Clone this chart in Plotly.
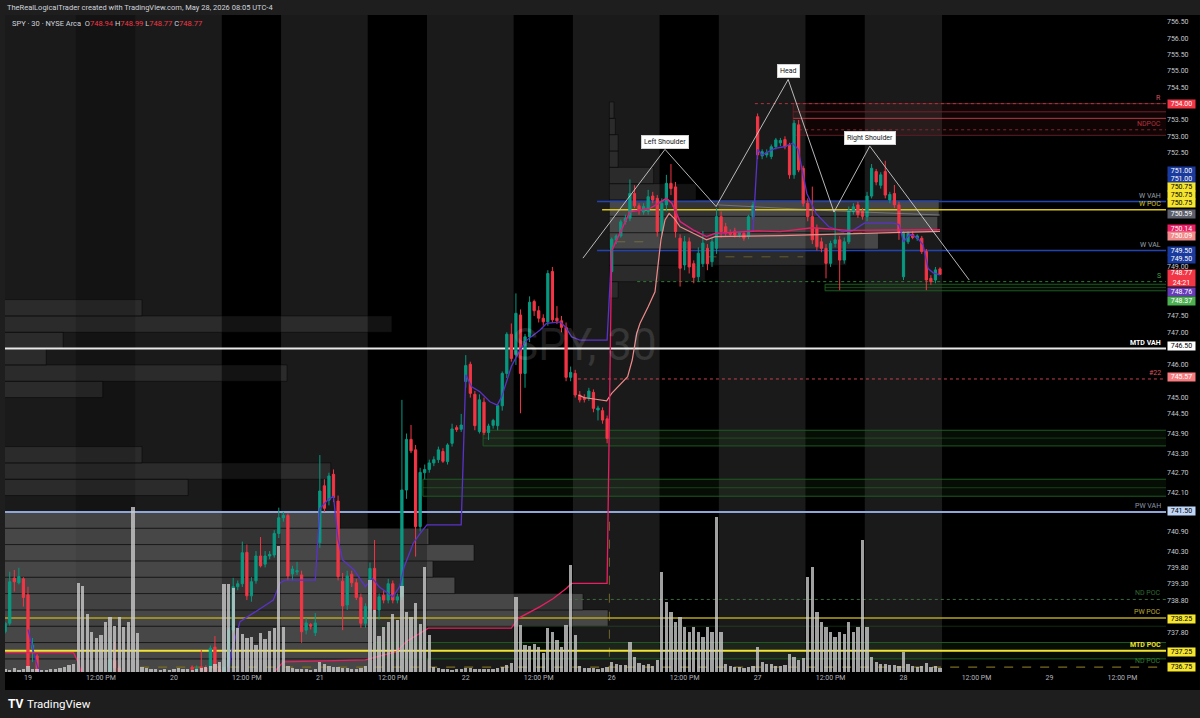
import plotly.graph_objects as go

# ======================= DATA =======================
# 30-minute bars, extended hours 04:00-20:00 (32 bars per session).
# bar index 0 = May 19 04:00 ; May 25 is a holiday (no session)
day_names = ["19", "20", "21", "22", "26", "27", "28", "29"]
day_first_bar = [0, 32, 64, 96, 128, 160, 192, 224]
noon_offset = 16
noon_text = "12:00 PM"

# (open, high, low, close)
may18_tail = [
    (737.83, 738.12, 737.78, 738.09), (738.09, 739.67, 738.02, 739.36),
    (739.47, 739.72, 739.06, 739.36), (739.33, 739.79, 739.28, 739.52),
    (739.45, 739.50, 738.60, 738.88),
]
may19 = [
    (738.96, 739.21, 736.70, 736.76), (737.32, 737.64, 736.90, 737.42),
    (737.09, 737.15, 735.90, 736.30), (736.30, 736.45, 736.10, 736.20),
    (736.20, 736.35, 736.05, 736.15), (736.15, 736.30, 736.00, 736.25),
    (736.25, 736.40, 736.10, 736.20), (736.20, 736.35, 736.00, 736.10),
    (736.10, 736.30, 735.95, 736.20), (736.20, 736.45, 736.10, 736.35),
    (736.35, 736.50, 736.15, 736.25), (736.25, 736.50, 735.60, 735.80),
    (735.80, 736.10, 735.40, 735.90), (735.90, 736.20, 735.70, 736.00),
    (736.00, 736.30, 735.80, 736.10), (736.10, 736.40, 735.90, 736.20),
    (736.20, 736.50, 736.00, 736.30), (736.30, 736.55, 736.10, 736.40),
    (736.40, 737.64, 736.30, 736.98), (736.94, 737.53, 736.60, 736.72),
    (736.72, 736.80, 736.30, 736.40), (736.40, 736.55, 736.10, 736.30),
    (736.30, 736.50, 736.00, 736.20), (736.20, 736.45, 735.90, 736.35),
    (736.35, 736.50, 736.20, 736.40), (736.40, 736.50, 736.30, 736.35),
    (736.35, 736.45, 736.25, 736.30), (736.30, 736.40, 736.20, 736.35),
    (736.35, 736.45, 736.30, 736.40), (736.40, 736.50, 736.30, 736.35),
    (736.35, 736.45, 736.25, 736.30), (736.30, 736.45, 736.20, 736.40),
]
may20 = [
    (736.40, 736.50, 736.30, 736.45), (736.45, 736.55, 736.35, 736.40),
    (736.40, 736.50, 736.30, 736.45), (736.45, 736.58, 736.40, 736.50),
    (736.75, 736.80, 736.60, 736.68), (736.68, 736.80, 736.55, 736.70),
    (736.75, 737.27, 736.60, 736.65), (736.72, 736.80, 736.55, 736.62),
    (736.70, 737.41, 736.60, 737.33), (737.36, 737.70, 736.60, 736.68),
    (736.68, 736.80, 736.50, 736.60), (736.60, 737.00, 736.30, 736.75),
    (736.75, 737.95, 736.60, 737.88), (737.88, 739.48, 737.80, 739.21),
    (739.21, 739.40, 739.10, 739.30), (739.30, 740.59, 739.20, 740.25),
    (740.26, 740.50, 738.80, 738.93), (738.93, 739.50, 738.75, 739.36),
    (739.39, 740.30, 739.30, 740.15), (740.15, 740.73, 739.80, 739.85),
    (739.90, 740.30, 739.80, 740.15), (740.15, 740.30, 740.05, 740.20),
    (740.18, 740.94, 740.10, 740.84), (740.84, 741.63, 740.70, 741.32),
    (741.32, 741.50, 741.20, 741.39), (741.39, 741.45, 739.40, 739.54),
    (739.60, 739.85, 739.40, 739.75), (739.66, 739.97, 739.57, 739.70),
    (739.57, 739.70, 737.49, 737.83), (737.88, 738.25, 737.75, 738.10),
    (738.05, 738.10, 737.90, 738.00), (737.80, 738.40, 737.70, 738.10),
]
may21 = [
    (740.56, 743.24, 740.40, 742.14), (742.30, 742.50, 741.50, 741.61),
    (741.86, 742.70, 741.70, 742.60), (742.65, 742.80, 741.80, 741.94),
    (741.83, 742.00, 739.40, 739.52), (739.38, 739.63, 737.88, 738.62),
    (738.65, 739.70, 738.50, 739.54), (739.59, 739.70, 739.20, 739.33),
    (739.33, 739.45, 738.80, 738.88), (738.88, 739.00, 737.95, 738.09),
    (738.09, 738.70, 737.95, 738.60), (738.55, 739.95, 738.40, 739.77),
    (739.77, 740.64, 738.40, 738.50), (738.50, 739.00, 738.20, 738.90),
    (738.95, 739.10, 738.70, 738.80), (738.80, 739.45, 738.70, 739.30),
    (739.30, 739.40, 738.70, 738.80), (738.80, 739.00, 738.70, 738.90),
    (738.90, 744.93, 738.80, 742.17), (742.17, 743.90, 741.90, 743.72),
    (743.72, 744.16, 743.30, 743.37), (743.40, 743.55, 740.13, 741.05),
    (741.05, 742.85, 740.90, 742.71), (742.70, 742.95, 742.50, 742.80),
    (742.80, 743.10, 742.70, 743.00), (743.00, 743.20, 742.90, 743.10),
    (743.10, 743.50, 743.00, 743.40), (743.35, 743.45, 743.00, 743.05),
    (743.04, 743.60, 742.95, 743.55), (743.60, 744.20, 743.50, 744.04),
    (744.08, 744.15, 743.95, 744.02), (744.03, 744.50, 743.95, 744.16),
]
may22 = [
    (745.49, 746.30, 745.30, 745.98), (746.02, 746.10, 745.00, 745.13),
    (745.10, 745.20, 744.00, 744.14), (743.96, 745.10, 743.90, 744.93),
    (744.86, 745.00, 743.85, 743.93), (743.93, 744.20, 743.70, 744.13),
    (744.15, 744.35, 744.05, 744.30), (744.14, 744.80, 744.00, 744.75),
    (744.75, 745.80, 744.60, 745.74), (745.74, 747.00, 745.60, 746.94),
    (746.94, 747.27, 746.10, 746.20), (746.31, 748.19, 746.00, 747.58),
    (747.53, 747.70, 744.52, 745.74), (745.74, 746.95, 745.30, 746.86),
    (746.86, 748.10, 746.70, 747.92), (747.94, 748.00, 747.50, 747.66),
    (747.66, 747.80, 747.30, 747.43), (747.43, 747.55, 747.20, 747.32),
    (747.32, 748.90, 747.20, 748.80), (748.86, 749.00, 747.30, 747.38),
    (747.43, 747.80, 747.25, 747.35), (747.35, 747.50, 747.00, 747.15),
    (747.15, 747.30, 745.50, 745.62), (745.62, 745.95, 745.50, 745.77),
    (745.74, 745.85, 745.00, 745.08), (745.08, 745.20, 744.85, 744.93),
    (744.98, 745.10, 744.85, 744.95), (745.00, 745.30, 744.90, 745.20),
    (745.16, 745.25, 744.55, 744.67), (744.62, 744.75, 744.30, 744.68),
    (744.60, 744.70, 744.20, 744.31), (744.35, 744.45, 743.60, 743.75),
]
may26 = [
    (748.86, 749.90, 748.80, 749.85), (749.83, 750.00, 749.70, 749.95),
    (749.95, 750.45, 749.90, 750.38), (750.38, 750.60, 750.30, 750.49),
    (750.49, 751.68, 750.40, 751.25), (751.25, 751.50, 750.80, 750.87),
    (750.87, 750.95, 750.60, 750.74), (750.68, 750.95, 750.60, 750.85),
    (750.70, 751.36, 750.60, 751.15), (751.17, 751.30, 750.95, 751.05),
    (751.10, 751.20, 749.93, 750.08), (750.10, 751.10, 749.95, 750.95),
    (750.90, 751.82, 750.70, 751.56), (751.56, 752.15, 751.20, 751.40),
    (751.45, 751.60, 749.90, 750.08), (749.88, 750.00, 748.40, 748.96),
    (749.06, 749.95, 748.90, 749.77), (749.77, 749.90, 748.80, 749.00),
    (749.10, 749.20, 748.50, 748.68), (748.70, 749.60, 748.55, 749.42),
    (749.10, 750.10, 749.00, 749.73), (749.57, 749.70, 748.90, 749.10),
    (749.16, 749.90, 749.00, 749.77), (749.57, 750.80, 749.40, 750.54),
    (750.54, 750.70, 749.90, 750.08), (750.23, 750.35, 749.95, 750.03),
    (750.05, 750.15, 749.95, 750.00), (750.10, 750.20, 749.90, 749.98),
    (749.98, 750.10, 749.90, 750.05), (750.03, 750.10, 749.80, 749.88),
    (749.93, 750.60, 749.85, 750.54), (750.54, 751.00, 750.45, 750.90),
]
may27 = [
    (753.60, 753.70, 752.30, 752.43), (752.40, 752.60, 752.30, 752.53),
    (752.43, 752.60, 752.35, 752.50), (752.38, 752.75, 752.30, 752.68),
    (752.68, 752.95, 752.60, 752.89), (752.80, 752.95, 752.70, 752.87),
    (752.90, 753.00, 752.60, 752.68), (752.73, 752.80, 751.70, 751.82),
    (751.82, 753.50, 751.70, 753.40), (753.35, 753.50, 751.90, 751.97),
    (752.02, 752.10, 750.85, 750.95), (750.95, 751.10, 750.40, 750.54),
    (750.54, 751.46, 749.70, 749.83), (750.18, 750.30, 749.50, 749.62),
    (749.77, 749.90, 749.45, 749.57), (749.57, 749.70, 748.65, 749.11),
    (749.11, 749.80, 749.00, 749.72), (749.72, 750.69, 749.60, 749.83),
    (749.83, 749.95, 748.29, 749.21), (749.21, 749.90, 749.10, 749.77),
    (749.77, 750.85, 749.70, 750.74), (750.70, 750.95, 750.60, 750.84),
    (750.90, 751.00, 750.50, 750.60), (750.70, 750.80, 750.45, 750.55),
    (750.54, 751.30, 750.40, 751.17), (751.17, 752.15, 751.10, 752.02),
    (751.92, 752.00, 751.50, 751.60), (751.50, 751.90, 751.40, 751.82),
    (751.92, 752.25, 751.10, 751.20), (751.05, 751.30, 750.95, 751.22),
    (751.25, 751.51, 750.80, 750.90), (750.90, 751.00, 749.83, 750.08),
]
may28 = [
    (748.70, 750.10, 748.60, 750.03), (749.77, 750.10, 749.70, 750.03),
    (750.00, 750.10, 749.85, 749.90), (749.88, 750.00, 749.80, 749.95),
    (749.88, 749.95, 749.40, 749.47), (749.47, 749.55, 748.29, 748.60),
    (748.65, 748.75, 748.45, 748.55), (748.60, 749.00, 748.50, 748.91),
    (748.94, 748.99, 748.77, 748.77),
]
first_bar_index = -5

# volume per bar (x10k shares)
vol18_tail = [3, 2, 4, 2, 3]
vol19 = [6, 3, 3, 2, 2, 3, 3, 4, 5, 7, 8, 89, 86, 58, 40, 34, 37, 50, 55, 46, 55, 45, 50, 165, 39, 5, 4, 3, 3, 2, 3, 2]
vol20 = [3, 4, 3, 3, 2, 3, 4, 5, 6, 8, 10, 88, 88, 84, 44, 38, 34, 35, 27, 39, 33, 41, 44, 126, 45, 6, 4, 3, 3, 3, 2, 3]
vol21 = [10, 8, 6, 5, 5, 4, 4, 3, 3, 4, 6, 92, 62, 36, 45, 50, 58, 52, 86, 60, 55, 69, 48, 105, 37, 5, 4, 3, 3, 2, 3, 3]
vol22 = [4, 4, 3, 3, 3, 3, 3, 4, 5, 7, 9, 75, 47, 27, 26, 28, 25, 19, 44, 40, 32, 25, 47, 107, 37, 6, 4, 4, 4, 3, 4, 5]
vol26 = [10, 8, 7, 7, 30, 15, 9, 7, 8, 6, 12, 100, 70, 60, 50, 55, 45, 40, 45, 40, 35, 45, 40, 155, 40, 8, 6, 5, 5, 4, 5, 6]
vol27 = [25, 10, 8, 8, 6, 6, 7, 18, 15, 12, 14, 95, 105, 60, 50, 45, 40, 35, 40, 38, 50, 40, 45, 132, 45, 15, 10, 8, 8, 7, 7, 6]
vol28 = [20, 8, 6, 5, 6, 9, 5, 6, 4]

# VWAP-type lines, read as (bar, price) vertices
daily_vwap = [(0, 737.9), (1, 737.3), (2, 736.8), (3, 736.4), (31, 736.3), (32, 736.4), (43.9, 736.55),
              (44.7, 737.27), (46.5, 738.14), (49.4, 738.4), (53.8, 738.8), (55.3, 739.33), (56.4, 739.41),
              (63, 739.41), (64, 741.6), (66, 741.9), (67, 741.97), (68, 740.64), (69, 740.03), (71.5, 739.72),
              (74, 739.21), (75.5, 739.47), (77, 739.21), (80, 738.9), (81.5, 739.21), (82.5, 739.82),
              (84.5, 740.54), (86, 740.84), (87.5, 741.1), (95, 741.1), (96, 745.7), (97.3, 745.33),
              (99.1, 745.18), (101.3, 744.87), (102.9, 744.77), (103.9, 745.03), (105, 745.54), (106, 745.95),
              (107.9, 746.46), (109.4, 746.76), (112.3, 747.07), (113.7, 747.27), (116.7, 747.32),
              (117.8, 747.17), (119.2, 746.86), (121, 746.76), (127, 746.76), (128, 749.5), (129.8, 750.03),
              (132, 750.69), (136.4, 750.79), (140, 751.1), (141.2, 750.95), (143, 750.39), (145.9, 750.13),
              (148.8, 749.93), (150.7, 750.03), (159, 750.1), (160, 752.6), (161, 752.43), (163.8, 752.63),
              (165.8, 752.68), (167.7, 752.79), (168.9, 752.6), (169.7, 752.02), (170.8, 751.25),
              (172.8, 750.64), (175.6, 750.23), (178.7, 750.08), (180.7, 750.1), (183.4, 750.34),
              (189.7, 750.34), (191, 750.3), (192, 749.77), (193.4, 750.0), (195, 749.9), (196.3, 749.67),
              (197.4, 748.95), (198.5, 748.82), (200, 748.76)]
weekly_vwap = [(-5, 737.19), (10, 737.19), (11, 736.9), (12, 736.45), (53, 736.4), (54, 736.6), (56, 736.91),
               (74, 736.97), (80.8, 737.22), (83, 737.53), (87.8, 737.94), (106, 737.94), (107.5, 738.24),
               (112.3, 738.6), (115.2, 738.85), (118.1, 739.16), (119.2, 739.31), (127, 739.31), (128, 749.5),
               (129.8, 750.03), (132, 750.69), (136.4, 750.79), (140, 751.1), (141.2, 750.95), (143, 750.39),
               (145.9, 750.13), (148.8, 749.93), (150.7, 750.03), (160, 750.1), (165, 750.08), (172, 750.2),
               (180, 750.12), (200, 750.14)]
anchored_vwap = [(120.7, 745.08), (122, 745.0), (124.5, 744.95), (126.9, 744.9), (128, 745.13), (130, 745.44),
                 (131.5, 745.64), (132.5, 746.15), (133.5, 746.97), (134.2, 747.27), (134.6, 747.38),
                 (136, 747.78), (137.5, 748.24), (138.2, 749.01), (138.8, 749.83), (139.7, 750.44),
                 (140.6, 750.64), (141.7, 750.49), (143, 750.23), (145.9, 750.03), (148.8, 749.83),
                 (150.7, 749.93), (165, 749.96), (200, 750.09)]
gray_line = [(151.3, 750.9), (176, 750.72), (200, 750.59)]
dev_poc_segments = [((129, 136), 749.77), ((149, 170), 749.31), ((177, 184), 750.04)]

# Volume profiles: (row low price, row length in bars from anchor)
prev_week_anchor = -32
prev_week_rows = [(736.5, 120.2), (737.0, 119.5), (737.5, 119.5), (738.0, 159.2), (738.5, 153.7),
                  (739.0, 125.6), (739.5, 120.8), (740.0, 129.8), (740.5, 119.9), (741.0, 100.4),
                  (741.5, 25.0), (742.0, 67.1), (742.5, 98.4), (743.0, 57.0), (743.5, 22.0),
                  (744.0, 18.0), (744.5, 16.0), (745.0, 48.4), (745.5, 88.8), (746.0, 36.0),
                  (746.5, 39.7), (747.0, 111.8), (747.5, 57.0)]
prev_week_va = (736.5, 741.5)
this_week_anchor = 127.5
this_week_rows = [(748.05, 1.9), (748.55, 21.0), (749.05, 52.0), (749.55, 59.0), (750.05, 72.0),
                  (750.55, 72.3), (751.05, 19.0), (751.55, 9.7), (752.05, 1.9), (752.55, 1.9),
                  (753.05, 1.3), (753.55, 1.0)]
this_week_va = (749.5, 751.05)
profile_row_height = 0.5

# Key levels
lvl_name = ["MTD VAH", "PW VAH", "PW POC", "MTD POC", "W VAH", "W POC", "W VAL", "#22", "R", "S", "ND POC", "ND POC"]
lvl_price = [746.50, 741.50, 738.25, 737.25, 751.00, 750.75, 749.50, 745.57, 754.00, 748.55, 738.82, 736.75]
lvl_from_bar = [-6, -6, -6, -6, 124.8, 125.9, 124.8, 120.6, 159.4, 133.6, 118.6, 24.6]

# zones (low, high, from bar)
support_zones = [(748.27, 748.47, 174.8), (743.52, 744.00, 99.8), (741.98, 742.50, 86.6), (737.00, 737.50, 75.9)]
resistance_zone = (753.03, 754.00, 167.8)
resistance_inner = [753.75, 753.55]
nd_poc_upper = 753.20

# Head & shoulders drawing vertices (bar, price)
hs_points = [(121.7, 749.27), (139.7, 752.60), (150.9, 750.85), (166.7, 754.74),
             (176.75, 750.68), (184.6, 752.70), (206.4, 748.60)]
hs_labels = [("Left Shoulder", 139.7, 752.83), ("Head", 166.7, 754.99), ("Right Shoulder", 184.6, 752.96)]

# price-axis tags
tag_values = [754.00, 751.00, 751.00, 750.75, 750.75, 750.75, 750.59, 750.14, 750.09, 749.50, 749.50,
              748.77, 748.76, 748.37, 746.50, 745.57, 741.50, 738.25, 737.25, 736.75]
countdown = "24:21"
axis_ticks = [756.5, 756.0, 755.5, 755.0, 754.5, 753.5, 753.0, 752.5, 749.0, 747.5, 747.0, 746.0, 745.0,
              744.5, 743.9, 743.3, 742.7, 742.1, 740.9, 740.3, 739.8, 739.3, 738.8, 737.8]

# ======================= LAYOUT / STYLE =======================
W, H = 1200, 718
ML, MR, MT, MB = 5, 34, 15, 46
X0, X1 = -5.04, 249.56
Y0, Y1 = 736.598, 756.714
PH = H - MT - MB
PW = W - ML - MR
UP, DN = "#089981", "#f23645"
FONT = "Roboto"


def pyp(px):  # pixel row -> paper y
    return (H - MB - px) / PH


def pxp(px):  # pixel col -> paper x
    return (px - ML) / PW


bars = may18_tail + may19 + may20 + may21 + may22 + may26 + may27 + may28
vols = vol18_tail + vol19 + vol20 + vol21 + vol22 + vol26 + vol27 + vol28
idx = list(range(first_bar_index, first_bar_index + len(bars)))
last_bar = idx[-1]

shapes = []
# outer frame strips
shapes.append(dict(type="rect", xref="paper", yref="paper", x0=pxp(-2), x1=pxp(1202), y0=1.0, y1=pyp(-2),
                   fillcolor="#1e1e1e", line_width=0, layer="below"))
shapes.append(dict(type="rect", xref="paper", yref="paper", x0=pxp(-2), x1=pxp(1202), y0=pyp(690), y1=pyp(720),
                   fillcolor="#1e1e1e", line_width=0, layer="below"))
shapes.append(dict(type="rect", xref="paper", yref="paper", x0=pxp(-2), x1=0, y0=pyp(690), y1=1.0,
                   fillcolor="#1e1e1e", line_width=0, layer="below"))

# session shading: extended hours gray, regular session black
shapes.append(dict(type="rect", xref="x", yref="paper", x0=X0 - 2, x1=last_bar + 0.5, y0=0, y1=1,
                   fillcolor="#1a1a1a", line_width=0, layer="below"))
for k, s in enumerate(day_first_bar[:6]):
    shapes.append(dict(type="rect", xref="x", yref="paper", x0=s + 10.5, x1=s + 23.5, y0=0, y1=1,
                       fillcolor="#131313" if k == 0 else "#000000", line_width=0, layer="below"))
shapes.append(dict(type="rect", xref="x", yref="paper", x0=last_bar + 0.5, x1=X1 + 2, y0=0, y1=1,
                   fillcolor="#000000", line_width=0, layer="below"))


def add_profile(rows, anchor, va):
    for lo, length in rows:
        in_va = va[0] - 1e-6 <= lo < va[1] - 1e-6
        shapes.append(dict(type="rect", xref="x", yref="y", x0=anchor, x1=anchor + length,
                           y0=lo, y1=lo + profile_row_height,
                           fillcolor="rgba(255,255,255,0.20)" if in_va else "rgba(255,255,255,0.075)",
                           line=dict(color="rgba(0,0,0,0.45)", width=1), layer="below"))


add_profile(prev_week_rows, prev_week_anchor, prev_week_va)
add_profile(this_week_rows, this_week_anchor, this_week_va)

# support zones (green)
for lo, hi, b in support_zones:
    shapes.append(dict(type="rect", xref="x", yref="y", x0=b, x1=X1 + 2, y0=lo, y1=hi,
                       fillcolor="rgba(46,125,50,0.10)", line=dict(color="#1e5a22", width=1), layer="below"))
    shapes.append(dict(type="line", xref="x", yref="y", x0=b, x1=X1 + 2, y0=(lo + hi) / 2, y1=(lo + hi) / 2,
                       line=dict(color="rgba(46,125,50,0.45)", width=1), layer="below"))
shapes.append(dict(type="line", xref="x", yref="y", x0=support_zones[3][2], x1=X1 + 2, y0=738.0, y1=738.0,
                   line=dict(color="rgba(46,125,50,0.35)", width=1), layer="below"))

# resistance zone (red)
rlo, rhi, rb = resistance_zone
shapes.append(dict(type="rect", xref="x", yref="y", x0=rb, x1=X1 + 2, y0=rlo, y1=rhi,
                   fillcolor="rgba(242,54,69,0.07)", line=dict(color="#5e1d24", width=1), layer="below"))
shapes.append(dict(type="line", xref="x", yref="y", x0=rb, x1=X1 + 2, y0=resistance_inner[0], y1=resistance_inner[0],
                   line=dict(color="#6d232b", width=1), layer="below"))
shapes.append(dict(type="line", xref="x", yref="y", x0=rb, x1=X1 + 2, y0=resistance_inner[1], y1=resistance_inner[1],
                   line=dict(color="#b53a46", width=1), layer="below"))
shapes.append(dict(type="line", xref="x", yref="y", x0=rb, x1=X1 + 2, y0=nd_poc_upper, y1=nd_poc_upper,
                   line=dict(color="#7a2a31", width=1, dash="dot"), layer="below"))

# developing POC dashes
for (a, b), p in dev_poc_segments:
    shapes.append(dict(type="line", xref="x", yref="y", x0=a, x1=b, y0=p, y1=p,
                       line=dict(color="rgba(150,135,60,0.55)", width=1, dash="dash"), layer="below"))
# week-start marker
shapes.append(dict(type="line", xref="x", yref="y", x0=127.5, x1=127.5, y0=741.2, y1=Y0 - 1,
                   line=dict(color="rgba(150,135,50,0.7)", width=1, dash="dash"), layer="below"))

lvl_style = {
    "MTD VAH": ("#e8e8e8", 2, "solid", "#ffffff", True),
    "PW VAH": ("#8ea6d8", 2, "solid", "#8d97ad", False),
    "PW POC": ("#b5a31f", 1.5, "solid", "#bcaa35", False),
    "MTD POC": ("#f2e232", 2, "solid", "#f2e232", True),
    "W VAH": ("#2443b3", 1.5, "solid", "#9aa0ac", False),
    "W POC": ("#d9c51c", 1.5, "solid", "#d9c51c", False),
    "W VAL": ("#2443b3", 1.5, "solid", "#9aa0ac", False),
    "#22": ("#c4404e", 1, "dot", "#d9535d", False),
    "R": ("#b0333f", 1, "dot", "#d9535d", False),
    "S": ("#2e7d32", 1, "dot", "#43a047", False),
}
nd_styles = [("#3d6b3d", 1, "dot", "#2f6a32", False), ("#7a6c1e", 1.2, "dash", "#2e7d32", False)]

annotations = []
nd_i = 0
for name, p, b in zip(lvl_name, lvl_price, lvl_from_bar):
    if name == "ND POC":
        st = nd_styles[nd_i]
        nd_i += 1
    else:
        st = lvl_style[name]
    col, wd, dash, lcol, bold = st
    shapes.append(dict(type="line", xref="x", yref="y", x0=b, x1=X1 + 2, y0=p, y1=p,
                       line=dict(color=col, width=wd, dash=dash), layer="below"))
    annotations.append(dict(xref="paper", yref="y", x=1, y=p, xanchor="right", yanchor="bottom",
                            xshift=-3, yshift=0, showarrow=False,
                            text=f"<b>{name}</b>" if bold else name,
                            font=dict(family=FONT, size=7, color=lcol)))
annotations.append(dict(xref="paper", yref="y", x=1, y=nd_poc_upper, xanchor="right", yanchor="bottom",
                        xshift=-3, showarrow=False, text="NDPOC", font=dict(family=FONT, size=7, color="#b3323d")))

fig = go.Figure()

fig.add_trace(go.Bar(x=idx, y=vols, yaxis="y2", width=0.72, marker=dict(color="rgba(205,205,205,0.78)", line_width=0),
                     hoverinfo="skip", showlegend=False))


def line_trace(pts, color, width=1.2, dash="solid"):
    fig.add_trace(go.Scatter(x=[a for a, _ in pts], y=[b for _, b in pts], mode="lines",
                             line=dict(color=color, width=width, dash=dash), hoverinfo="skip", showlegend=False))


line_trace(gray_line, "rgba(170,170,170,0.45)", 1)
line_trace(anchored_vwap, "#f08a8a", 1.2)
line_trace(daily_vwap, "#5a32c8", 1.3)
line_trace(weekly_vwap, "#e91e63", 1.3)

fig.add_trace(go.Candlestick(
    x=idx, open=[b[0] for b in bars], high=[b[1] for b in bars], low=[b[2] for b in bars], close=[b[3] for b in bars],
    increasing=dict(line=dict(color=UP, width=1), fillcolor=UP),
    decreasing=dict(line=dict(color=DN, width=1), fillcolor=DN),
    whiskerwidth=0, hoverinfo="skip", showlegend=False))

line_trace(hs_points, "rgba(215,215,215,0.85)", 1)

for txt, bx, py in hs_labels:
    annotations.append(dict(xref="x", yref="y", x=bx, y=py, text=txt, showarrow=False,
                            font=dict(family=FONT, size=7, color="#131722"), bgcolor="#ffffff",
                            bordercolor="#d0d0d0", borderwidth=1, borderpad=2))

# watermark
annotations.append(dict(xref="x", yref="y", x=122.1, y=746.61, text="SPY, 30", showarrow=False,
                        font=dict(family=FONT, size=44, color="rgba(255,255,255,0.12)")))

# price axis tags
tag_style = [("#f23645", "#ffffff", 0), ("#1b3a9e", "#ffffff", 31), ("#1b3a9e", "#ffffff", 23),
             ("#f5e52e", "#000000", 23), ("#f5e52e", "#000000", 15), ("#f5e52e", "#000000", 7),
             ("#5d606b", "#ffffff", 1), ("#e91e63", "#ffffff", 1), ("#f28b8b", "#ffffff", -5),
             ("#1b3a9e", "#ffffff", 0), ("#1b3a9e", "#ffffff", -8), ("#f23645", "#ffffff", -3.5),
             ("#673ab7", "#ffffff", -17), ("#4caf50", "#ffffff", -13), ("#ffffff", "#000000", 2.5),
             ("#f77c80", "#ffffff", 2), ("#bfd6f6", "#000000", 0.5), ("#f5e52e", "#000000", -0.5),
             ("#f5e52e", "#000000", -1), ("#f5e52e", "#000000", 0)]
for v, (bg, fg, sh) in zip(tag_values, tag_style):
    txt = f"{v:.2f}"
    hgt = 8
    if abs(v - bars[-1][3]) < 1e-9 and bg == "#f23645":
        txt = f"{v:.2f}<br>{countdown}"
        hgt = 16
    annotations.append(dict(xref="paper", yref="y", x=1, y=v, xanchor="left", yanchor="middle", xshift=1,
                            yshift=sh, text=txt, showarrow=False, width=27, height=hgt, align="center",
                            bgcolor=bg, borderpad=0, font=dict(family=FONT, size=7, color=fg)))

# header
annotations.append(dict(xref="paper", yref="paper", x=pxp(5), y=pyp(7), xanchor="left", yanchor="middle",
                        showarrow=False,
                        text="TheRealLogicalTrader created with TradingView.com, May 28, 2026 08:05 UTC-4",
                        font=dict(family=FONT, size=7.5, color="#d1d4dc")))
o, h_, l_, c = bars[-1]
red = lambda s: f'<span style="color:{DN}">{s}</span>'
annotations.append(dict(xref="paper", yref="paper", x=pxp(10), y=pyp(23), xanchor="left", yanchor="middle",
                        showarrow=False,
                        text=f"SPY · 30 · NYSE Arca  O{red(f'{o:.2f}')} H{red(f'{h_:.2f}')} "
                             f"L{red(f'{l_:.2f}')} C{red(f'{c:.2f}')}",
                        font=dict(family=FONT, size=7.5, color="#d1d4dc")))
# footer logo
annotations.append(dict(xref="paper", yref="paper", x=pxp(6), y=pyp(704), xanchor="left", yanchor="middle",
                        showarrow=False, text="<b>TV</b>", font=dict(family=FONT, size=12, color="#ffffff")))
annotations.append(dict(xref="paper", yref="paper", x=pxp(25), y=pyp(704), xanchor="left", yanchor="middle",
                        showarrow=False, text="TradingView", font=dict(family=FONT, size=11.5, color="#ffffff")))

xt, xtt = [], []
for name, s in zip(day_names, day_first_bar):
    xt += [s, s + noon_offset]
    xtt += [name, noon_text]

fig.update_layout(
    width=W, height=H, margin=dict(l=ML, r=MR, t=MT, b=MB),
    paper_bgcolor="#000000", plot_bgcolor="#000000",
    shapes=shapes, annotations=annotations, showlegend=False, bargap=0,
    xaxis=dict(range=[X0, X1], tickvals=xt, ticktext=xtt, showgrid=False, zeroline=False, showline=False,
               ticks="", tickfont=dict(family=FONT, size=7, color="#b2b5be"), rangeslider=dict(visible=False),
               fixedrange=True),
    yaxis=dict(range=[Y0, Y1], side="right", tickvals=axis_ticks, ticktext=[f"{v:.2f}" for v in axis_ticks],
               showgrid=False, zeroline=False, showline=False, ticks="",
               tickfont=dict(family=FONT, size=7, color="#c4c7cf"), fixedrange=True),
    yaxis2=dict(range=[0, PH], overlaying="y", visible=False, fixedrange=True),
)

fig.write_html("out.html")
